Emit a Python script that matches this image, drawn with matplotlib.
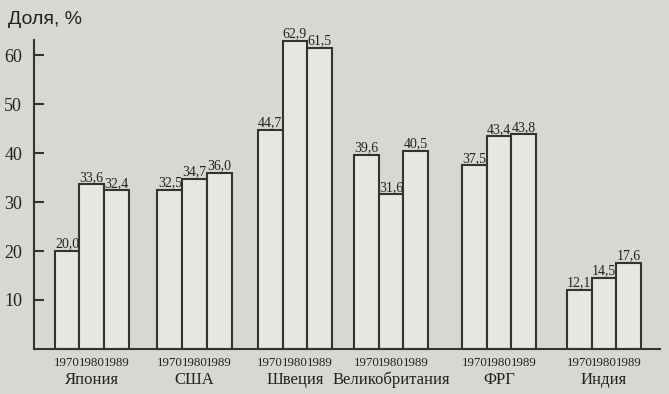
import numpy as np
import matplotlib
matplotlib.use("Agg")
import matplotlib.pyplot as plt

# данные
countries = ["Япония", "США", "Швеция", "Великобритания", "ФРГ", "Индия"]
years = ["1970", "1980", "1989"]
v1970 = [20.0, 32.5, 44.7, 39.6, 37.5, 12.1]
v1980 = [33.6, 34.7, 62.9, 31.6, 43.4, 14.5]
v1989 = [32.4, 36.0, 61.5, 40.5, 43.8, 17.6]

# расположение групп (как в оригинале, шаг неровный)
group_x = np.array([0, 1.003, 1.983, 2.92, 3.974, 4.998])
width = 0.241

bg = "#d8d8d3"
bar_face = "#e6e6e2"
ink = "#333333"
txt = "#222222"
serif = "Liberation Serif"

fig = plt.figure(figsize=(6.69, 3.94), dpi=100, facecolor=bg)
ax = fig.add_axes([34 / 669, 1 - 349 / 394, 626 / 669, (349 - 40.3) / 394])
ax.set_facecolor(bg)

tick_pos = []
tick_lab = []
for k, vals in enumerate([v1970, v1980, v1989]):
    xs = group_x + (k - 1) * width
    tick_pos.extend(xs)
    tick_lab.extend([years[k]] * len(xs))
    ax.bar(xs, vals, width, color=bar_face, edgecolor=ink, linewidth=1.5,
           clip_on=False, zorder=2)
    for x, v in zip(xs, vals):
        ax.annotate(f"{v:.1f}".replace(".", ","), (x, v), xytext=(0, 2.5),
                    textcoords="offset points", ha="center", va="baseline",
                    fontsize=10, family=serif, color=txt)

ax.set_xlim(-0.563, 5.544)
ax.set_ylim(0, 63)

ax.spines["top"].set_visible(False)
ax.spines["right"].set_visible(False)
for s in ["left", "bottom"]:
    ax.spines[s].set_linewidth(1.5)
    ax.spines[s].set_color(ink)

ax.set_yticks([10, 20, 30, 40, 50, 60])
ax.tick_params(axis="y", direction="in", length=7.5, width=1.5, color=ink,
               pad=8.5, labelsize=13, labelcolor=txt)
for t in ax.get_yticklabels():
    t.set_family(serif)

ax.set_xticks(tick_pos)
ax.set_xticklabels(tick_lab)
ax.tick_params(axis="x", length=0, pad=6, labelsize=9.3, labelcolor=txt)
for t in ax.get_xticklabels():
    t.set_family(serif)

for x, name in zip(group_x, countries):
    ax.text(x, -0.1134, name, transform=ax.get_xaxis_transform(), ha="center",
            va="baseline", fontsize=12, family=serif, color=txt)

fig.text(8 / 669, 1 - 24 / 394, "Доля, %", fontsize=14, family="Liberation Sans",
         color=txt, ha="left", va="baseline")

fig.savefig("out.png", dpi=100, facecolor=bg)
